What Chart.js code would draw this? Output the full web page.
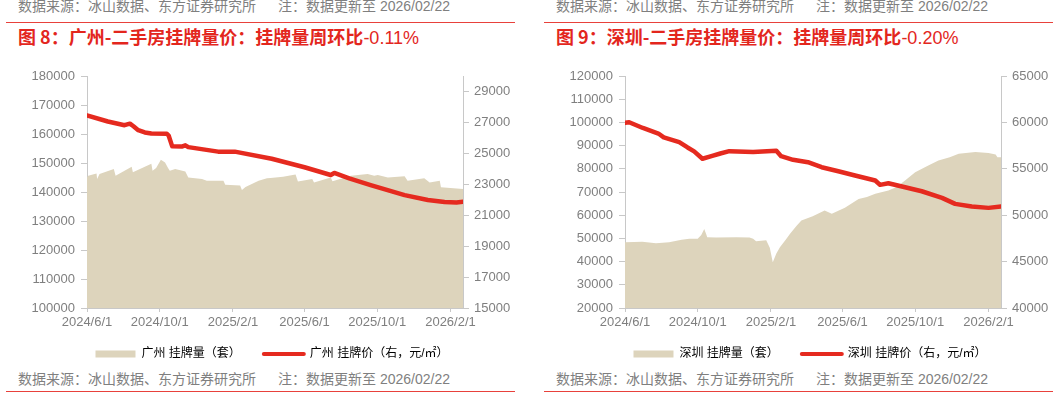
<!DOCTYPE html>
<html>
<head>
<meta charset="utf-8">
<script src="https://cdn.jsdelivr.net/npm/chart.js@4/dist/chart.umd.min.js"></script>
<style>
  html, body { margin:0; padding:0; background:#fff; }
  body { width:1061px; height:398px; overflow:hidden; position:relative;
         font-family:"Liberation Sans","Noto Sans CJK SC",sans-serif; }
  .panel { position:absolute; top:0; width:530px; height:398px; }
  .src { position:absolute; left:18px; font-size:14px; line-height:16px; color:#7f7f7f; white-space:nowrap; }
  .src .gap { display:inline-block; width:22px; }
  .rule { position:absolute; left:6px; width:509px; height:1px; background:#e8413b; }
  .title { position:absolute; left:18px; top:26px; font-size:18px; line-height:20px; color:#e3261d; white-space:nowrap; }
  .title .cn { font-weight:bold; font-family:"Noto Sans CJK SC",sans-serif; }
  .title .num { font-weight:normal; }
  canvas { position:absolute; left:0; top:60px; }
</style>
</head>
<body>
<div class="panel" style="left:0px">
  <div class="src" style="top:-2px">数据来源：冰山数据、东方证券研究所<span class="gap"></span>注：数据更新至 2026/02/22</div>
  <div class="rule" style="top:22px"></div>
  <div class="title"><span class="cn">图 8：广州-二手房挂牌量价：挂牌量周环比</span><span class="num">-0.11%</span></div>
  <canvas id="gz" width="530" height="310"></canvas>
  <div class="src" style="top:371px">数据来源：冰山数据、东方证券研究所<span class="gap"></span>注：数据更新至 2026/02/22</div>
  <div class="rule" style="top:391px"></div>
</div>
<div class="panel" style="left:538px">
  <div class="src" style="top:-2px">数据来源：冰山数据、东方证券研究所<span class="gap"></span>注：数据更新至 2026/02/22</div>
  <div class="rule" style="top:22px"></div>
  <div class="title"><span class="cn">图 9：深圳-二手房挂牌量价：挂牌量周环比</span><span class="num">-0.20%</span></div>
  <canvas id="sz" width="530" height="310"></canvas>
  <div class="src" style="top:371px">数据来源：冰山数据、东方证券研究所<span class="gap"></span>注：数据更新至 2026/02/22</div>
  <div class="rule" style="top:391px"></div>
</div>
<script>
// ---------- DATA (x = days since 2024-06-01) ----------
const START_DATE = '2024-06-01';
const LAST_DAY = 631; // 2026-02-22

const xTickDays   = [0, 122, 245, 365, 487, 610];
const xTickLabels = ['2024/6/1', '2024/10/1', '2025/2/1', '2025/6/1', '2025/10/1', '2026/2/1'];

// Guangzhou listings (套)
const gzVolDays = [0,2,16,17,21,45,48,75,77,108,110,116,124,131,136,139,148,165,170,193,201,229,232,257,260,266,288,302,308,329,350,354,378,381,409,412,443,471,482,488,505,533,538,566,575,592,594,631];
const gzVol     = [145000,145600,146400,144500,146200,147900,145600,148700,146800,149700,147300,148300,151100,150200,148300,147300,147900,147100,145000,144500,143900,143900,142500,142200,140700,141700,143900,144700,144800,145300,146000,143600,144500,143300,145000,143700,145600,146200,145600,145900,145000,145400,143900,144700,143300,143900,141600,141000];
// Guangzhou listing price (元/㎡)
const gzPriceDays = [0,35,63,72,78,86,97,108,134,137,143,159,165,170,220,248,310,365,409,415,440,476,533,572,600,620,631];
const gzPrice     = [27450,27060,26820,26920,26750,26500,26350,26280,26270,26150,25450,25440,25520,25400,25110,25110,24650,24100,23600,23730,23380,22950,22300,21980,21850,21820,21870];
const gzLeftTicks  = [100000,110000,120000,130000,140000,150000,160000,170000,180000];
const gzRightTicks = [15000,17000,19000,21000,23000,25000,27000,29000];

// Shenzhen listings (套)
const szVolDays = [0,15,29,52,74,95,108,122,128,133,136,138,153,187,209,215,220,237,243,248,254,260,270,277,288,296,315,335,347,369,392,406,420,442,455,470,487,509,526,545,560,588,610,622,625,631];
const szVol     = [48300,48500,48600,47900,48300,49400,49800,49900,51500,54000,52000,50500,50400,50500,50400,49800,48800,49200,46000,39700,43500,46200,49500,52000,55500,57700,59500,62000,60600,63200,67000,67800,69200,70700,72000,75000,78500,81400,83600,85000,86500,87200,86800,86200,85000,85000];
// Shenzhen listing price (元/㎡)
const szPriceDays = [0,7,30,56,65,91,105,116,130,145,160,175,215,254,262,282,307,330,358,386,420,428,442,470,498,532,554,582,610,631];
const szPrice     = [59950,60020,59400,58800,58380,57870,57300,56880,56080,56360,56650,56900,56800,56950,56360,55970,55710,55170,54740,54280,53740,53270,53440,53010,52580,51870,51220,50930,50790,50950];
const szLeftTicks  = [20000,30000,40000,50000,60000,70000,80000,90000,100000,110000,120000];
const szRightTicks = [40000,45000,50000,55000,60000,65000];

// ---------- STYLE ----------
const FONT = '"Liberation Sans","Noto Sans CJK SC",sans-serif';
const RED = '#e52a1f';
const BEIGE = '#ddd4bc';
const AXIS = '#c8c8c8';
const LABEL = '#7f7f7f';
Chart.defaults.font.family = FONT;

function zip(xs, ys) { return xs.map((x, i) => ({ x: x, y: ys[i] })); }
function fixedTicks(values) { return scale => { scale.ticks = values.map(v => ({ value: v })); }; }
const plain = v => String(v);

function makeChart(id, cfg) {
  return new Chart(document.getElementById(id), {
    type: 'line',
    data: {
      datasets: [
        { label: cfg.priceLabel, data: zip(cfg.priceDays, cfg.price), yAxisID: 'y2',
          borderColor: RED, backgroundColor: RED, borderWidth: 4.5, pointRadius: 0, tension: 0,
          borderCapStyle: 'round', borderJoinStyle: 'round', fill: false },
        { label: cfg.volLabel, data: zip(cfg.volDays, cfg.vol), yAxisID: 'y',
          borderColor: BEIGE, backgroundColor: BEIGE, borderWidth: 0, pointRadius: 0, tension: 0,
          fill: 'start' }
      ]
    },
    options: {
      responsive: false, animation: false, events: [],
      layout: { padding: { top: 16, left: 14, right: 0, bottom: 0 } },
      plugins: {
        tooltip: { enabled: false },
        legend: {
          position: 'bottom',
          labels: {
            usePointStyle: true, pointStyleWidth: 40, boxHeight: 7, padding: 23,
            color: '#666666', font: { size: 12, family: FONT },
            sort: (a, b) => b.datasetIndex - a.datasetIndex,
            generateLabels: chart => chart.data.datasets.map((ds, i) => i === 0
              ? { text: ds.label, pointStyle: 'line', fillStyle: RED, strokeStyle: RED, lineWidth: 4, lineCap: 'round', datasetIndex: i, hidden: false }
              : { text: ds.label, pointStyle: 'rect', fillStyle: BEIGE, strokeStyle: BEIGE, lineWidth: 0, datasetIndex: i, hidden: false })
          }
        }
      },
      scales: {
        x: {
          type: 'linear', min: 0, max: LAST_DAY,
          afterBuildTicks: fixedTicks(xTickDays),
          afterFit: s => { s.height = 17; s._computeLabelArea = () => null; },
          ticks: { autoSkip: false, maxRotation: 0, padding: 3, color: LABEL, font: { size: 13 },
                   callback: v => xTickLabels[xTickDays.indexOf(v)] },
          grid: { drawOnChartArea: false, tickLength: 4, color: AXIS },
          border: { color: AXIS }
        },
        y: {
          position: 'left', min: cfg.leftTicks[0], max: cfg.leftTicks[cfg.leftTicks.length - 1],
          afterBuildTicks: fixedTicks(cfg.leftTicks),
          afterFit: s => { s.width = 73; },
          ticks: { padding: 6, color: LABEL, font: { size: 13 }, callback: plain },
          grid: { drawOnChartArea: false, tickLength: 6, color: AXIS },
          border: { color: AXIS }
        },
        y2: {
          position: 'right', min: cfg.rightMin, max: cfg.rightMax,
          afterBuildTicks: fixedTicks(cfg.rightTicks),
          afterFit: s => { s.width = 67; },
          ticks: { padding: 5, color: LABEL, font: { size: 13 }, callback: plain },
          grid: { drawOnChartArea: false, tickLength: 6, color: AXIS },
          border: { color: AXIS }
        }
      }
    }
  });
}

makeChart('gz', {
  volLabel: '广州 挂牌量（套）', priceLabel: '广州 挂牌价（右，元/㎡）',
  volDays: gzVolDays, vol: gzVol, priceDays: gzPriceDays, price: gzPrice,
  leftTicks: gzLeftTicks, rightTicks: gzRightTicks, rightMin: 15000, rightMax: 30000
});
makeChart('sz', {
  volLabel: '深圳 挂牌量（套）', priceLabel: '深圳 挂牌价（右，元/㎡）',
  volDays: szVolDays, vol: szVol, priceDays: szPriceDays, price: szPrice,
  leftTicks: szLeftTicks, rightTicks: szRightTicks, rightMin: 40000, rightMax: 65000
});
</script>
</body>
</html>
